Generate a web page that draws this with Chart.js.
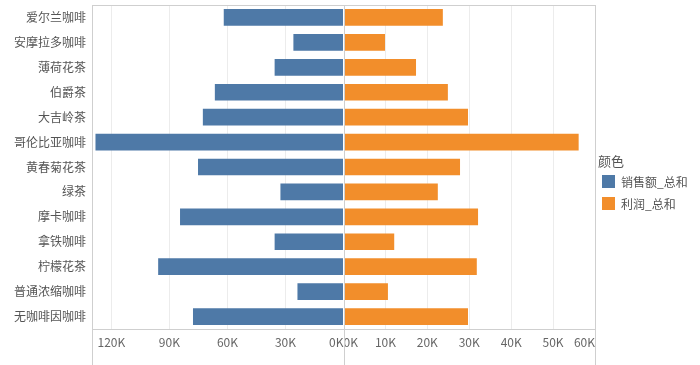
<!DOCTYPE html>
<html>
<head>
<meta charset="utf-8">
<script src="https://cdn.jsdelivr.net/npm/chart.js@4.4.1/dist/chart.umd.min.js"></script>
<style>
  body { margin: 0; background: #fff; font-family: "Noto Sans CJK SC", "Noto Sans", sans-serif; }
  #wrap { position: relative; width: 700px; height: 365px; }
  #legend { position: absolute; left: 598px; top: 151px; color: #555; font-size: 13px; }
  #legend .title { margin-bottom: 0; }
  #legend .item { display: flex; align-items: center; height: 22px; margin-left: 4px; font-size: 12px; }
  #legend .sw { width: 13px; height: 13px; margin-right: 6px; }
</style>
</head>
<body>
<div id="wrap">
  <canvas id="chart"></canvas>
  <div id="legend"></div>
</div>
<script>
// categories (top to bottom)
var products = ['爱尔兰咖啡', '安摩拉多咖啡', '薄荷花茶', '伯爵茶', '大吉岭茶', '哥伦比亚咖啡',
  '黄春菊花茶', '绿茶', '摩卡咖啡', '拿铁咖啡', '柠檬花茶', '普通浓缩咖啡', '无咖啡因咖啡'];
// 销售额_总和
var sales = [61900, 25900, 35600, 66500, 72700, 128200, 75200, 32600, 84500, 35600, 95800, 23800, 77800];
// 利润_总和
var profit = [23700, 9900, 17300, 24900, 29700, 56100, 27800, 22500, 32100, 12100, 31800, 10600, 29700];

// tick values of the two value axes
var salesTicks = [0, 30000, 60000, 90000, 120000];
var profitTicks = [0, 10000, 20000, 30000, 40000, 50000, 60000];
var salesMax = 130000;
var profitMax = 60000;

var legendTitle = '颜色';
var seriesNames = ['销售额_总和', '利润_总和'];
var colors = ['#4e79a7', '#f28e2b'];

var gridColor = '#ececec';
var frameColor = '#cfcfcf';
var font = "'Noto Sans CJK SC', 'Noto Sans', sans-serif";

function kLabel(v) { return (v / 1000) + 'K'; }

// box around plot area, middle divider, lines run down past the axis
var frame = {
  id: 'frame',
  afterDatasetsDraw: function (chart) {
    var c = chart.ctx, a = chart.chartArea;
    var mid = chart.scales.xL.right;
    c.save();
    c.strokeStyle = frameColor;
    c.lineWidth = 1;
    c.beginPath();
    c.moveTo(a.left, Math.round(a.top) + 0.5); c.lineTo(a.right, Math.round(a.top) + 0.5);
    c.moveTo(a.left, Math.round(a.bottom) + 0.5); c.lineTo(a.right, Math.round(a.bottom) + 0.5);
    [a.left, mid, a.right].forEach(function (x) {
      x = Math.round(x) + 0.5;
      c.moveTo(x, a.top); c.lineTo(x, chart.height);
    });
    c.stroke();
    c.restore();
  }
};

function innerGrid(ctx) {
  var v = ctx.tick.value;
  var s = ctx.scale;
  return (v === s.min || v === s.max) ? 'rgba(0,0,0,0)' : gridColor;
}

// ticks from the arrays; axis end added so 'inner' alignment hits the edge tick
function ticksFrom(list, max) {
  return function (s) {
    var vals = list.slice();
    if (vals.indexOf(max) < 0) vals.push(max);
    s.ticks = vals.map(function (v) { return { value: v }; });
  };
}

var ctx = document.getElementById('chart').getContext('2d');
var chart = new Chart(ctx, {
  type: 'bar',
  data: {
    labels: products,
    datasets: [{
      label: seriesNames[0],
      data: sales,
      xAxisID: 'xL',
      backgroundColor: colors[0]
    }, {
      label: seriesNames[1],
      data: profit,
      xAxisID: 'xR',
      backgroundColor: colors[1]
    }]
  },
  options: {
    indexAxis: 'y',
    responsive: true,
    maintainAspectRatio: false,
    animation: false,
    datasets: { bar: { grouped: false, categoryPercentage: 1, barPercentage: 0.67 } },
    layout: { padding: { top: 5, right: 105, left: 0, bottom: 0 } },
    plugins: { legend: { display: false }, tooltip: { enabled: false } },
    scales: {
      y: {
        type: 'category',
        grid: { display: false, drawTicks: false },
        border: { display: false },
        ticks: { color: '#555', font: { family: font, size: 12 }, padding: 6, autoSkip: false },
        afterFit: function (s) { s.width = 92; s.paddingTop = 0; s.paddingBottom = 0; }
      },
      xL: {
        type: 'linear',
        position: 'bottom',
        stack: 'x',
        stackWeight: 1,
        reverse: true,
        min: 0,
        max: salesMax,
        grid: { color: innerGrid, drawTicks: false },
        border: { display: false },
        afterBuildTicks: ticksFrom(salesTicks, salesMax),
        ticks: {
          autoSkip: false,
          maxRotation: 0,
          align: 'inner',
          padding: 6,
          color: '#666',
          font: { family: font, size: 12 },
          callback: function (v) { return salesTicks.indexOf(v) >= 0 ? kLabel(v) : ''; }
        },
        afterFit: function (s) { s.height = 36; }
      },
      xR: {
        type: 'linear',
        position: 'bottom',
        stack: 'x',
        stackWeight: 1,
        min: 0,
        max: profitMax,
        grid: { color: innerGrid, drawTicks: false },
        border: { display: false },
        afterBuildTicks: ticksFrom(profitTicks, profitMax),
        ticks: {
          autoSkip: false,
          maxRotation: 0,
          align: 'inner',
          padding: 6,
          color: '#666',
          font: { family: font, size: 12 },
          callback: function (v) { return profitTicks.indexOf(v) >= 0 ? kLabel(v) : ''; }
        },
        afterFit: function (s) { s.height = 36; }
      }
    }
  },
  plugins: [frame]
});

// legend on the right
var lg = document.getElementById('legend');
var html = '<div class="title">' + legendTitle + '</div>';
seriesNames.forEach(function (n, i) {
  html += '<div class="item"><span class="sw" style="background:' + colors[i] + '"></span>' + n + '</div>';
});
lg.innerHTML = html;
</script>
</body>
</html>
